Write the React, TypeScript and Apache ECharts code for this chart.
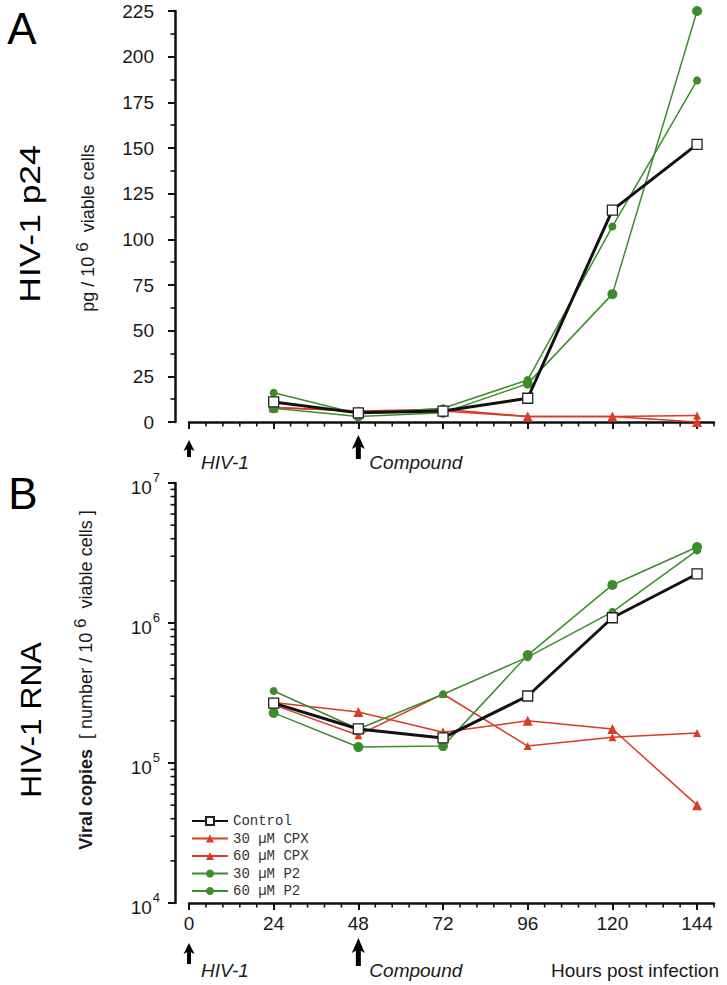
import React, { useEffect, useRef } from 'react';
import * as echarts from 'echarts';

// ---------- data ----------
const hours = [24, 48, 72, 96, 120, 144];
const seriesNames = ['Control', '30 µM CPX', '60 µM CPX', '30 µM P2', '60 µM P2'];

// Panel A: HIV-1 p24 (pg / 10^6 viable cells)
const p24Control = [11, 5, 6, 13, 116, 152];
const p24Cpx30 = [8, 6, 6, 3, 3, 3.5];
const p24Cpx60 = [8, 6, 7, 3, 3, 0];
const p24P2_30 = [16, 4.5, 7.5, 23, 107, 187];
const p24P2_60 = [7.5, 3, 5, 21, 70, 225];

// Panel B: HIV-1 RNA (viral copies / 10^6 viable cells)
const rnaControl = [2.68e5, 1.75e5, 1.51e5, 3.01e5, 1.09e6, 2.24e6];
const rnaCpx30 = [2.6e5, 1.58e5, 3.11e5, 1.32e5, 1.53e5, 1.64e5];
const rnaCpx60 = [2.7e5, 2.31e5, 1.66e5, 2.0e5, 1.75e5, 5.0e4];
const rnaP2_30 = [3.27e5, 1.75e5, 3.1e5, 5.7e5, 1.2e6, 3.3e6];
const rnaP2_60 = [2.28e5, 1.3e5, 1.32e5, 5.9e5, 1.87e6, 3.49e6];

const xTickValues = [0, 24, 48, 72, 96, 120, 144];
const X_MAX = 148.8;
const X_MINOR_STEP = 4.8;
const p24Max = 225;
const p24Interval = 25;
const rnaDecades = [1e4, 1e5, 1e6, 1e7];

const xMinorTicks: number[] = [];
for (let k = 1; k * X_MINOR_STEP <= X_MAX + 1e-9; k++) {
  if (k % 5 !== 0) xMinorTicks.push(Math.round(k * X_MINOR_STEP * 10) / 10);
}
const rnaMinorTicks: number[] = [];
for (let d = 0; d < rnaDecades.length - 1; d++) {
  for (let m = 2; m <= 9; m++) rnaMinorTicks.push(rnaDecades[d] * m);
}

// ---------- layout / style ----------
const GL = 189;
const GW = 525;
const A_TOP = 11;
const A_H = 411;
const B_TOP = 483;
const B_H = 420;
const Y_OFFSET = 14;
const AXIS = '#111';
const RED = '#dc3a22';
const GREEN = '#3c8c2c';
const SANS = 'Liberation Sans, Arial, Helvetica, sans-serif';
const TXT = '#1a1a1a';

const xPix = (h: number) => GL + (h / X_MAX) * GW;

const seriesStyles = [
  { symbol: 'rect', symbolSize: 10, itemStyle: { color: '#fff', borderColor: '#222', borderWidth: 1.3 }, lineStyle: { color: '#111', width: 3 }, z: 5 },
  { symbol: 'triangle', symbolSize: 8, itemStyle: { color: RED }, lineStyle: { color: RED, width: 1.5 }, z: 3 },
  { symbol: 'triangle', symbolSize: 10, itemStyle: { color: RED }, lineStyle: { color: RED, width: 1.5 }, z: 3 },
  { symbol: 'circle', symbolSize: 8, itemStyle: { color: GREEN }, lineStyle: { color: GREEN, width: 1.5 }, z: 4 },
  { symbol: 'circle', symbolSize: 10, itemStyle: { color: GREEN }, lineStyle: { color: GREEN, width: 1.5 }, z: 4 },
];

const p24Sets = [p24Control, p24Cpx30, p24Cpx60, p24P2_30, p24P2_60];
const rnaSets = [rnaControl, rnaCpx30, rnaCpx60, rnaP2_30, rnaP2_60];

const makeSeries = (sets: number[][], xi: number, yi: number) =>
  sets.map((vals, i) => ({
    type: 'line',
    name: seriesNames[i],
    xAxisIndex: xi,
    yAxisIndex: yi,
    data: hours.map((h, k) => [h, vals[k]]),
    showAllSymbol: true,
    clip: false,
    ...seriesStyles[i],
  }));

// minor ticks along the x axis (drawn through the axis scale)
const xMinorSeries = (xi: number, yi: number, yBase: number) => ({
  type: 'custom',
  xAxisIndex: xi,
  yAxisIndex: yi,
  silent: true,
  clip: false,
  z: 6,
  data: xMinorTicks.map((v) => [v, yBase]),
  renderItem: (_p: any, api: any) => {
    const pt = api.coord([api.value(0), api.value(1)]);
    return {
      type: 'line',
      shape: { x1: pt[0], y1: pt[1], x2: pt[0], y2: pt[1] + 4.5 },
      style: { stroke: AXIS, lineWidth: 1.6 },
    };
  },
});

// minor ticks along the log y axis
const yMinorSeries = (xi: number, yi: number) => ({
  type: 'custom',
  xAxisIndex: xi,
  yAxisIndex: yi,
  silent: true,
  clip: false,
  z: 6,
  data: rnaMinorTicks.map((v) => [0, v]),
  renderItem: (_p: any, api: any) => {
    const pt = api.coord([api.value(0), api.value(1)]);
    const ax = pt[0] - Y_OFFSET;
    return {
      type: 'line',
      shape: { x1: ax - 4.5, y1: pt[1], x2: ax, y2: pt[1] },
      style: { stroke: AXIS, lineWidth: 1.6 },
    };
  },
});

const majorX = (gi: number, labels: boolean) => ({
  type: 'value',
  gridIndex: gi,
  position: 'bottom',
  min: 0,
  max: X_MAX,
  interval: 24,
  axisLine: { show: true, onZero: false, lineStyle: { color: AXIS, width: 2.5 } },
  axisTick: { show: true, length: 7, customValues: xTickValues, lineStyle: { color: AXIS, width: 2 } },
  axisLabel: {
    show: labels,
    customValues: xTickValues,
    margin: 11,
    fontFamily: SANS,
    fontSize: 19,
    color: TXT,
    formatter: (v: number) => (v % 24 === 0 ? String(v) : ''),
  },
  splitLine: { show: false },
});

const arrow = (x: number, tip: number, bottom: number, hw: number, hh: number, sw: number) => [
  {
    type: 'polygon',
    shape: { points: [[x, tip], [x - hw / 2, tip + hh], [x, tip + hh * 0.75], [x + hw / 2, tip + hh]] },
    style: { fill: '#000' },
    z: 10,
  },
  {
    type: 'rect',
    shape: { x: x - sw / 2, y: tip + hh * 0.6, width: sw, height: bottom - tip - hh * 0.6 },
    style: { fill: '#000' },
    z: 10,
  },
];

const txt = (x: number, y: number, text: string, extra: any = {}, el: any = {}) => ({
  type: 'text',
  x,
  y,
  z: 10,
  ...el,
  style: {
    text,
    fill: TXT,
    fontFamily: SANS,
    fontSize: 19,
    align: 'left',
    textAlign: 'left',
    verticalAlign: 'middle',
    textVerticalAlign: 'middle',
    ...extra,
  },
});

export default function App() {
  const ref = useRef<HTMLDivElement>(null);

  useEffect(() => {
    if (!ref.current) return;
    const chart = echarts.init(ref.current, null, { renderer: 'svg' });

    const option: any = {
      animation: false,
      backgroundColor: '#fff',
      grid: [
        { left: GL, top: A_TOP, width: GW, height: A_H },
        { left: GL, top: B_TOP, width: GW, height: B_H },
      ],
      legend: {
        orient: 'vertical',
        left: 186,
        top: 808,
        itemWidth: 36,
        itemHeight: 10,
        itemGap: 1.5,
        selectedMode: false,
        data: seriesNames,
        textStyle: {
          fontFamily: 'Liberation Mono, Courier New, monospace',
          fontSize: 14,
          lineHeight: 16,
          color: '#333',
        },
      },
      xAxis: [majorX(0, false), majorX(1, true)],
      yAxis: [
        {
          type: 'value',
          gridIndex: 0,
          position: 'left',
          offset: Y_OFFSET,
          min: 0,
          max: p24Max,
          interval: p24Interval,
          axisLine: { show: true, onZero: false, lineStyle: { color: AXIS, width: 2.5 } },
          axisTick: { show: true, length: 7, lineStyle: { color: AXIS, width: 2 } },
          minorTick: { show: true, splitNumber: 2, length: 4.5, lineStyle: { color: AXIS, width: 1.6 } },
          axisLabel: { margin: 21, fontFamily: SANS, fontSize: 19, color: TXT },
          splitLine: { show: false },
          minorSplitLine: { show: false },
        },
        {
          type: 'log',
          logBase: 10,
          gridIndex: 1,
          position: 'left',
          offset: Y_OFFSET,
          min: rnaDecades[0],
          max: rnaDecades[rnaDecades.length - 1],
          splitNumber: 3,
          axisLine: { show: true, onZero: false, lineStyle: { color: AXIS, width: 2.5 } },
          axisTick: { show: true, length: 7, customValues: rnaDecades, lineStyle: { color: AXIS, width: 2 } },
          axisLabel: {
            margin: 15,
            customValues: rnaDecades,
            formatter: (v: number) => `{b|10}{s|${Math.round(Math.log10(v))}}`,
            rich: {
              b: { fontFamily: SANS, fontSize: 19, color: TXT, padding: [8, 0, 0, 0] },
              s: { fontFamily: SANS, fontSize: 13, color: TXT, padding: [0, 0, 11, 1] },
            },
          },
          splitLine: { show: false },
        },
      ],
      series: [
        ...makeSeries(p24Sets, 0, 0),
        ...makeSeries(rnaSets, 1, 1),
        xMinorSeries(0, 0, 0),
        xMinorSeries(1, 1, rnaDecades[0]),
        yMinorSeries(1, 1),
      ],
      graphic: [
        // panel letters
        txt(22, 28, 'A', { fontSize: 44, align: 'center', textAlign: 'center', fill: '#000' }),
        txt(23, 493, 'B', { fontSize: 44, align: 'center', textAlign: 'center', fill: '#000' }),
        // big titles
        txt(29, 224, 'HIV-1 p24', { fontSize: 30, align: 'center', textAlign: 'center', fill: '#000' }, { rotation: Math.PI / 2, scaleX: 1.18 }),
        txt(31, 720, 'HIV-1 RNA', { fontSize: 30, align: 'center', textAlign: 'center', fill: '#000' }, { rotation: Math.PI / 2, scaleX: 1.06 }),
        // y axis names
        txt(
          88,
          228,
          'pg / 10 {s|6}  viable cells',
          {
            fontSize: 18,
            align: 'center',
            textAlign: 'center',
            rich: { s: { fontFamily: SANS, fontSize: 17, fill: TXT, color: TXT, padding: [0, 0, 12, 0] } },
          },
          { rotation: Math.PI / 2 }
        ),
        txt(
          86,
          680,
          '{b|Viral copies}  [ number / 10 {s|6}  viable cells ]',
          {
            fontSize: 18,
            align: 'center',
            textAlign: 'center',
            rich: {
              b: { fontFamily: SANS, fontSize: 18, fontWeight: 'bold', fill: TXT, color: TXT },
              s: { fontFamily: SANS, fontSize: 17, fill: TXT, color: TXT, padding: [0, 0, 12, 0] },
            },
          },
          { rotation: Math.PI / 2 }
        ),
        // arrows + annotations, panel A
        ...arrow(xPix(0), 440, 457, 11, 11, 4),
        ...arrow(xPix(48), 435, 459, 13, 14, 5),
        txt(xPix(0) + 12, 462, 'HIV-1', { fontStyle: 'italic' }),
        txt(xPix(48) + 11, 462, 'Compound', { fontStyle: 'italic' }),
        // arrows + annotations, panel B
        ...arrow(xPix(0), 943, 964, 11, 11, 4),
        ...arrow(xPix(48), 938, 966, 13, 15, 5),
        txt(xPix(0) + 12, 970, 'HIV-1', { fontStyle: 'italic' }),
        txt(xPix(48) + 11, 970, 'Compound', { fontStyle: 'italic' }),
        txt(719, 970, 'Hours post infection', { align: 'right', textAlign: 'right' }),
      ],
    };

    chart.setOption(option);
    return () => chart.dispose();
  }, []);

  return (
    <div
      ref={ref}
      style={{ position: 'absolute', left: 0, top: 0, width: 727, height: 985, background: '#fff' }}
    />
  );
}
